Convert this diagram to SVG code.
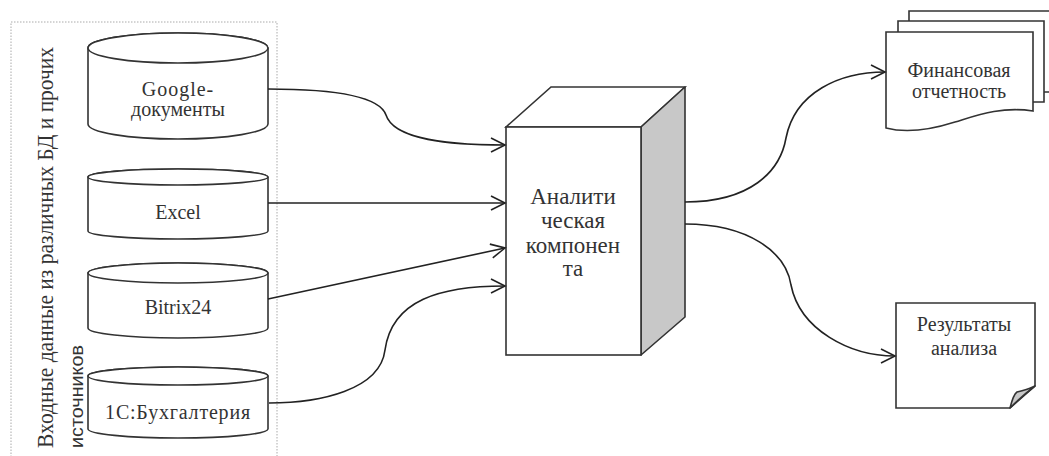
<svg xmlns="http://www.w3.org/2000/svg" width="1049" height="456" viewBox="0 0 1049 456">
<style>
.shape{fill:#fff;stroke:#333;stroke-width:1.6}
.side{fill:#c8c8c8;stroke:#333;stroke-width:1.6;stroke-linejoin:round}
.t{font-family:"Liberation Serif","Times New Roman",serif;fill:#333;font-size:20px;text-anchor:middle}
.conn{fill:none;stroke:#222;stroke-width:1.6;marker-end:url(#arr)}
.frame{fill:none;stroke:#aaa;stroke-width:1;stroke-dasharray:1.5 1.5}
</style>
<defs>
<marker id="arr" markerUnits="userSpaceOnUse" markerWidth="18" markerHeight="18" refX="15" refY="8" orient="auto">
<path d="M1,1 L15,8 L1,15" fill="none" stroke="#222" stroke-width="1.6"/>
</marker>
</defs>
<rect id="frame" class="frame" x="11" y="22" width="266" height="445"/>
<g id="frame-label">
<text transform="translate(53,448) rotate(-90)" style="font-family:'Liberation Serif','Times New Roman',serif;font-size:23px;fill:#333" textLength="401" lengthAdjust="spacingAndGlyphs">Входные данные из различных БД и прочих</text>
<text transform="translate(83,448) rotate(-90)" style="font-family:'Liberation Sans',Arial,sans-serif;font-size:18px;fill:#333" textLength="103" lengthAdjust="spacingAndGlyphs">источников</text>
</g>
<g id="google">
<path class="shape" d="M88,48 A90,15 0 0 1 268,48 V124 A90,15 0 0 1 88,124 Z"/>
<ellipse class="shape" cx="178" cy="48" rx="90" ry="15"/>
<text class="t" x="178" y="96" style="letter-spacing:1px">Google-</text>
<text class="t" x="178" y="116">документы</text>
</g>
<g id="excel">
<path class="shape" d="M88,177 A90,8 0 0 1 268,177 V231 A90,8 0 0 1 88,231 Z"/>
<ellipse class="shape" cx="178" cy="177" rx="90" ry="8"/>
<text class="t" x="178" y="219">Excel</text>
</g>
<g id="bitrix">
<path class="shape" d="M88,273 A90,10 0 0 1 268,273 V328 A90,10 0 0 1 88,328 Z"/>
<ellipse class="shape" cx="178" cy="273" rx="90" ry="10"/>
<text class="t" x="178" y="314">Bitrix24</text>
</g>
<g id="onec">
<path class="shape" d="M88,376 A90,9 0 0 1 268,376 V429 A90,9 0 0 1 88,429 Z"/>
<ellipse class="shape" cx="178" cy="376" rx="90" ry="9"/>
<text class="t" x="178" y="419" style="letter-spacing:0.8px">1С:Бухгалтерия</text>
</g>
<g id="analytics">
<polygon class="shape" points="506,127 551,87 685,87 641,127"/>
<polygon class="side" points="641,127 685,87 685,317 641,355"/>
<rect class="shape" x="506" y="127" width="135" height="228"/>
<text class="t" x="573" y="204" style="font-size:23px">Аналити</text>
<text class="t" x="573" y="228" style="font-size:23px">ческая</text>
<text class="t" x="573" y="253" style="font-size:23px">компонен</text>
<text class="t" x="573" y="276" style="font-size:23px">та</text>
</g>
<g id="finance">
<path class="shape" d="M909,11 H1056 V92 H909 Z"/>
<path class="shape" d="M898,21 H1044 V102 H898 Z"/>
<path class="shape" d="M886,32 H1033 V111 C1000,106 975,116 955,122 C930,130 905,133 886,128 Z"/>
<text class="t" x="959" y="77" style="font-size:20px">Финансовая</text>
<text class="t" x="959" y="98" style="font-size:20px">отчетность</text>
</g>
<g id="results">
<path class="shape" d="M896,303 H1035 V386 L1010,408 H896 Z"/>
<path class="side" d="M1010,408 C1012,400 1014,394 1017,392 C1024,390 1030,389 1035,386 C1026,393 1018,400 1010,408 Z"/>
<text class="t" x="964" y="331" style="font-size:20px">Результаты</text>
<text class="t" x="964" y="355" style="font-size:20px">анализа</text>
</g>
<g id="connectors">
<path class="conn" d="M268,89 C340,89 380,98 386,115 C394,140 450,145 505,145"/>
<path class="conn" d="M268,203 H505"/>
<path class="conn" d="M268,299 L505,248"/>
<path class="conn" d="M269,403 C320,403 380,390 385,350 C392,300 440,286 505,286"/>
<path class="conn" d="M685,202 C750,202 780,172 786,138 C795,92 840,72 885,72"/>
<path class="conn" d="M685,224 C748,224 786,252 791,285 C800,330 850,356 895,356"/>
</g>
</svg>
